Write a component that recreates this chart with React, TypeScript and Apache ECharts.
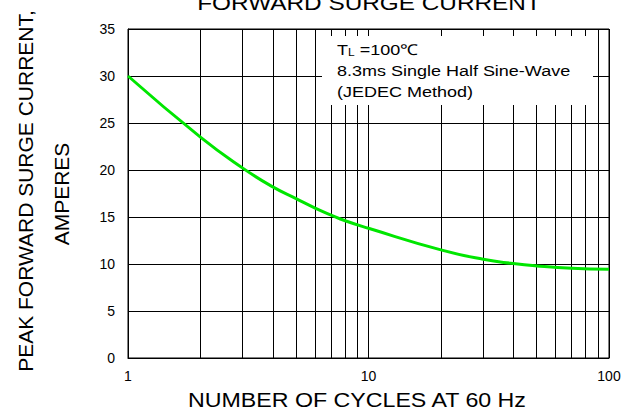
import React, { useEffect, useRef } from "react";
import * as echarts from "echarts";

// Data
const cycles = [1, 2, 3, 4, 5, 6, 7, 8, 10, 20, 30, 40, 50, 70, 100];
const surgeCurrent = [30, 23.5, 20.2, 18.2, 16.95, 15.95, 15.2, 14.6, 13.8, 11.5, 10.5, 10.05, 9.8, 9.55, 9.45];
const minorCycleLines = [2, 3, 4, 5, 6, 7, 8, 9, 20, 30, 40, 50, 60, 70, 80, 90];
const yMin = 0;
const yMax = 35;
const yStep = 5;

const titleText = "FORWARD SURGE CURRENT";
const xAxisTitle = "NUMBER OF CYCLES AT 60 Hz";
const yAxisTitle1 = "PEAK FORWARD SURGE CURRENT,";
const yAxisTitle2 = "AMPERES";
const noteLine2 = "8.3ms Single Half Sine-Wave";
const noteLine3 = "(JEDEC Method)";

const FONT = "'Liberation Sans', Arial, sans-serif";

export default function App() {
  const ref = useRef<HTMLDivElement>(null);

  useEffect(() => {
    if (!ref.current) return;
    const chart = echarts.init(ref.current, undefined, { renderer: "svg" });
    const option: any = {
      animation: false,
      backgroundColor: "#fff",
      textStyle: { fontFamily: FONT },
      grid: {
        left: 128,
        top: 29,
        width: 481,
        height: 329,
        show: true,
        borderColor: "#000",
        borderWidth: 1,
        backgroundColor: "transparent",
      },
      xAxis: {
        type: "log",
        logBase: 10,
        min: 1,
        max: 100,
        axisLine: { show: true, lineStyle: { color: "#000", width: 1 } },
        axisTick: { show: false },
        axisLabel: { color: "#000", fontSize: 14, margin: 11, fontFamily: FONT },
        splitLine: { show: true, lineStyle: { color: "#000", width: 1 } },
      },
      yAxis: {
        type: "value",
        min: yMin,
        max: yMax,
        interval: yStep,
        axisLine: { show: true, lineStyle: { color: "#000", width: 1 } },
        axisTick: { show: false },
        axisLabel: { color: "#000", fontSize: 14, margin: 13, fontFamily: FONT },
        splitLine: { show: true, lineStyle: { color: "#000", width: 1 } },
      },
      series: [
        {
          type: "line",
          data: [],
          z: 1,
          silent: true,
          markLine: {
            silent: true,
            symbol: "none",
            label: { show: false },
            lineStyle: { color: "#000", width: 1, type: "solid" },
            data: minorCycleLines.map((v) => ({ xAxis: v })),
          },
        },
        {
          type: "line",
          z: 5,
          data: cycles.map((c, i) => [c, surgeCurrent[i]]),
          smooth: 0.5,
          showSymbol: false,
          symbol: "none",
          lineStyle: { color: "#00e600", width: 3 },
        },
      ],
      graphic: [
        {
          type: "rect",
          z: 50,
          shape: { x: 322, y: 36, width: 271, height: 69 },
          style: { fill: "#fff", stroke: null },
        },
        {
          type: "text",
          z: 51,
          x: 337,
          y: 50,
          scaleX: 1.2,
          style: {
            text: "{a|T}{b|L}{a| =100℃}",
            rich: {
              a: { fontSize: 15, fontFamily: FONT, fill: "#000" },
              b: { fontSize: 10, fontFamily: FONT, fill: "#000", padding: [4, 0, 0, 0] },
            },
            align: "left",
            verticalAlign: "middle",
          },
        },
        {
          type: "text",
          z: 51,
          x: 337,
          y: 71,
          scaleX: 1.2,
          style: {
            text: noteLine2,
            fontSize: 15,
            fontFamily: FONT,
            fill: "#000",
            align: "left",
            verticalAlign: "middle",
          },
        },
        {
          type: "text",
          z: 51,
          x: 337,
          y: 92,
          scaleX: 1.2,
          style: {
            text: noteLine3,
            fontSize: 15,
            fontFamily: FONT,
            fill: "#000",
            align: "left",
            verticalAlign: "middle",
          },
        },
        {
          type: "text",
          x: 369,
          y: 3,
          scaleX: 1.16,
          style: {
            text: titleText,
            fontSize: 21,
            fontFamily: FONT,
            fill: "#000",
            align: "center",
            verticalAlign: "middle",
          },
        },
        {
          type: "text",
          x: 357,
          y: 400,
          scaleX: 1.16,
          style: {
            text: xAxisTitle,
            fontSize: 20,
            fontFamily: FONT,
            fill: "#000",
            align: "center",
            verticalAlign: "middle",
          },
        },
        {
          type: "text",
          x: 25,
          y: 191,
          rotation: Math.PI / 2,
          style: {
            text: yAxisTitle1,
            fontSize: 21,
            fontFamily: FONT,
            fill: "#000",
            align: "center",
            verticalAlign: "middle",
          },
        },
        {
          type: "text",
          x: 61,
          y: 194,
          rotation: Math.PI / 2,
          style: {
            text: yAxisTitle2,
            fontSize: 21,
            fontFamily: FONT,
            fill: "#000",
            align: "center",
            verticalAlign: "middle",
          },
        },
      ],
    };
    chart.setOption(option);
    return () => {
      chart.dispose();
    };
  }, []);

  return (
    <div
      ref={ref}
      style={{ position: "absolute", left: 0, top: 0, width: 629, height: 411 }}
    />
  );
}
